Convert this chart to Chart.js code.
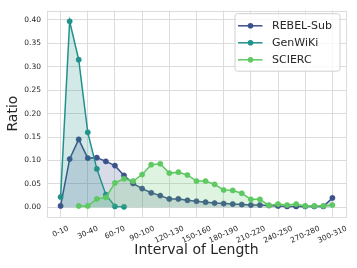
<!DOCTYPE html>
<html>
<head>
<meta charset="utf-8">
<script src="https://cdn.jsdelivr.net/npm/chart.js@4/dist/chart.umd.min.js"></script>
<style>
  html, body { margin: 0; padding: 0; background: #ffffff; }
  canvas { display: block; }
</style>
</head>
<body>
<canvas id="lengthChart" width="357" height="268"></canvas>
<script>
// Intervalles de longueur (axe x)
const categories = ['0-10', '10-20', '20-30', '30-40', '40-50', '50-60', '60-70', '70-80',
    '80-90', '90-100', '100-110', '110-120', '120-130', '130-140', '140-150', '150-160',
    '160-170', '170-180', '180-190', '190-200', '200-210', '210-220', '220-230', '230-240',
    '240-250', '250-260', '260-270', '270-280', '280-290', '290-300', '300-310'];

// Index des intervalles affichés sur l'axe x, et graduations de l'axe y
const xTicks = [0, 3, 6, 9, 12, 15, 18, 21, 24, 27, 30];
const yTicks = [0, 0.05, 0.10, 0.15, 0.20, 0.25, 0.30, 0.35, 0.40];

// Ratio par intervalle pour chaque jeu de données
const rebelSub = [0.003, 0.103, 0.145, 0.105, 0.106, 0.098, 0.089, 0.068, 0.051, 0.040,
    0.031, 0.025, 0.018, 0.018, 0.015, 0.013, 0.011, 0.009, 0.008, 0.007,
    0.006, 0.005, 0.005, 0.004, 0.003, 0.002, 0.002, 0.002, 0.002, 0.002, 0.020];
const genWiki = [0.022, 0.397, 0.315, 0.160, 0.082, 0.027, 0.002, 0.001, null, null,
    null, null, null, null, null, null, null, null, null, null,
    null, null, null, null, null, null, null, null, null, null, null];
const scierc = [null, null, 0.003, 0.003, 0.018, 0.021, 0.052, 0.061, 0.056, 0.070,
    0.091, 0.093, 0.073, 0.075, 0.069, 0.056, 0.056, 0.049, 0.037, 0.036,
    0.030, 0.017, 0.017, 0.004, 0.007, 0.005, 0.007, 0.003, 0.003, 0.003, 0.005];

const seriesNames = ['REBEL-Sub', 'GenWiKi', 'SCIERC'];
const seriesColors = ['#3b528b', '#21918c', '#5ec962'];
const seriesFills = ['rgba(59, 82, 139, 0.2)', 'rgba(33, 145, 140, 0.2)', 'rgba(94, 201, 98, 0.2)'];

const textColor = '#262626';
const gridColor = '#dcdcdc';
const fontFamily = '"DejaVu Sans", sans-serif';

function toPoints(values) {
    return values.map((v, i) => ({ x: i, y: v }));
}

function makeDataset(values, idx) {
    return {
        label: seriesNames[idx],
        data: toPoints(values),
        borderColor: seriesColors[idx],
        backgroundColor: seriesFills[idx],
        pointBackgroundColor: seriesColors[idx],
        pointBorderColor: seriesColors[idx],
        pointRadius: 2.6,
        pointBorderWidth: 0.6,
        borderWidth: 1.5,
        fill: 'origin',
        tension: 0,
        order: 3 - idx
    };
}

// Cadre gris autour de la zone du graphique
const framePlugin = {
    id: 'frame',
    beforeDatasetsDraw(chart) {
        const { ctx, chartArea: a } = chart;
        ctx.save();
        ctx.strokeStyle = gridColor;
        ctx.lineWidth = 1;
        ctx.strokeRect(Math.round(a.left) + 0.5, Math.round(a.top) + 0.5,
            Math.round(a.right - a.left), Math.round(a.bottom - a.top));
        ctx.restore();
    }
};

// Étiquettes de l'axe x, inclinées et centrées sur la graduation
const xLabelPlugin = {
    id: 'xLabels',
    afterDraw(chart) {
        const { ctx, chartArea } = chart;
        const scale = chart.scales.x;
        const angle = 25 * Math.PI / 180;
        const size = 7.5;
        ctx.save();
        ctx.font = size + 'px ' + fontFamily;
        ctx.fillStyle = textColor;
        ctx.textAlign = 'center';
        ctx.textBaseline = 'middle';
        xTicks.forEach(i => {
            const label = categories[i];
            const w = ctx.measureText(label).width;
            const h = w * Math.sin(angle) + size * Math.cos(angle);
            const x = scale.getPixelForValue(i);
            const y = chartArea.bottom + 8 + h / 2;
            ctx.save();
            ctx.translate(x, y);
            ctx.rotate(-angle);
            ctx.fillText(label, 0, 0);
            ctx.restore();
        });
        ctx.restore();
    }
};

// Légende façon matplotlib (ligne + marqueur)
const legendPlugin = {
    id: 'customLegend',
    afterDraw(chart) {
        const { ctx, chartArea: a } = chart;
        const right = a.right - 6.5;
        const top = a.top + 2.7;
        const boxW = 105;
        const boxH = 57.5;
        const left = right - boxW;
        ctx.save();
        ctx.fillStyle = 'rgba(255, 255, 255, 0.8)';
        ctx.strokeStyle = '#d0d0d0';
        ctx.lineWidth = 1;
        ctx.beginPath();
        ctx.roundRect(left + 0.5, top + 0.5, boxW, boxH, 2.5);
        ctx.fill();
        ctx.stroke();
        ctx.font = '11px ' + fontFamily;
        ctx.textBaseline = 'middle';
        ctx.textAlign = 'left';
        seriesNames.forEach((name, i) => {
            const y = top + 12.6 + i * 17;
            ctx.strokeStyle = seriesColors[i];
            ctx.lineWidth = 1.5;
            ctx.beginPath();
            ctx.moveTo(left + 3.5, y);
            ctx.lineTo(left + 28, y);
            ctx.stroke();
            ctx.fillStyle = seriesColors[i];
            ctx.beginPath();
            ctx.arc(left + 16, y, 2.8, 0, Math.PI * 2);
            ctx.fill();
            ctx.fillStyle = textColor;
            ctx.fillText(name, left + 37.5, y + 0.5);
        });
        ctx.restore();
    }
};

const ctx = document.getElementById('lengthChart').getContext('2d');
const lengthChart = new Chart(ctx, {
    type: 'line',
    data: {
        datasets: [
            makeDataset(rebelSub, 0),
            makeDataset(genWiki, 1),
            makeDataset(scierc, 2)
        ]
    },
    options: {
        responsive: false,
        animation: false,
        layout: { padding: { top: 8, right: 11, bottom: 0, left: 0 } },
        plugins: {
            legend: { display: false },
            tooltip: { enabled: false }
        },
        scales: {
            x: {
                type: 'linear',
                min: -1.5,
                max: 31.5,
                afterBuildTicks: axis => { axis.ticks = xTicks.map(v => ({ value: v })); },
                afterFit: axis => { axis.height = 51.3; },
                ticks: { display: false },
                grid: { color: gridColor, drawTicks: false, lineWidth: 1 },
                border: { display: false },
                title: {
                    display: true,
                    text: 'Interval of Length',
                    color: textColor,
                    font: { family: fontFamily, size: 14 },
                    padding: { top: 4, bottom: 9 }
                }
            },
            y: {
                type: 'linear',
                min: -0.02,
                max: 0.42,
                afterBuildTicks: axis => { axis.ticks = yTicks.map(v => ({ value: v })); },
                afterFit: axis => { axis.width = 47; },
                ticks: {
                    color: textColor,
                    font: { family: fontFamily, size: 7.5 },
                    padding: 6,
                    callback: v => Number(v).toFixed(2)
                },
                grid: { color: gridColor, drawTicks: false, lineWidth: 1 },
                border: { display: false },
                title: {
                    display: true,
                    text: 'Ratio',
                    color: textColor,
                    font: { family: fontFamily, size: 14 },
                    padding: { top: 5, bottom: 4 }
                }
            }
        }
    },
    plugins: [framePlugin, xLabelPlugin, legendPlugin]
});
</script>
</body>
</html>
